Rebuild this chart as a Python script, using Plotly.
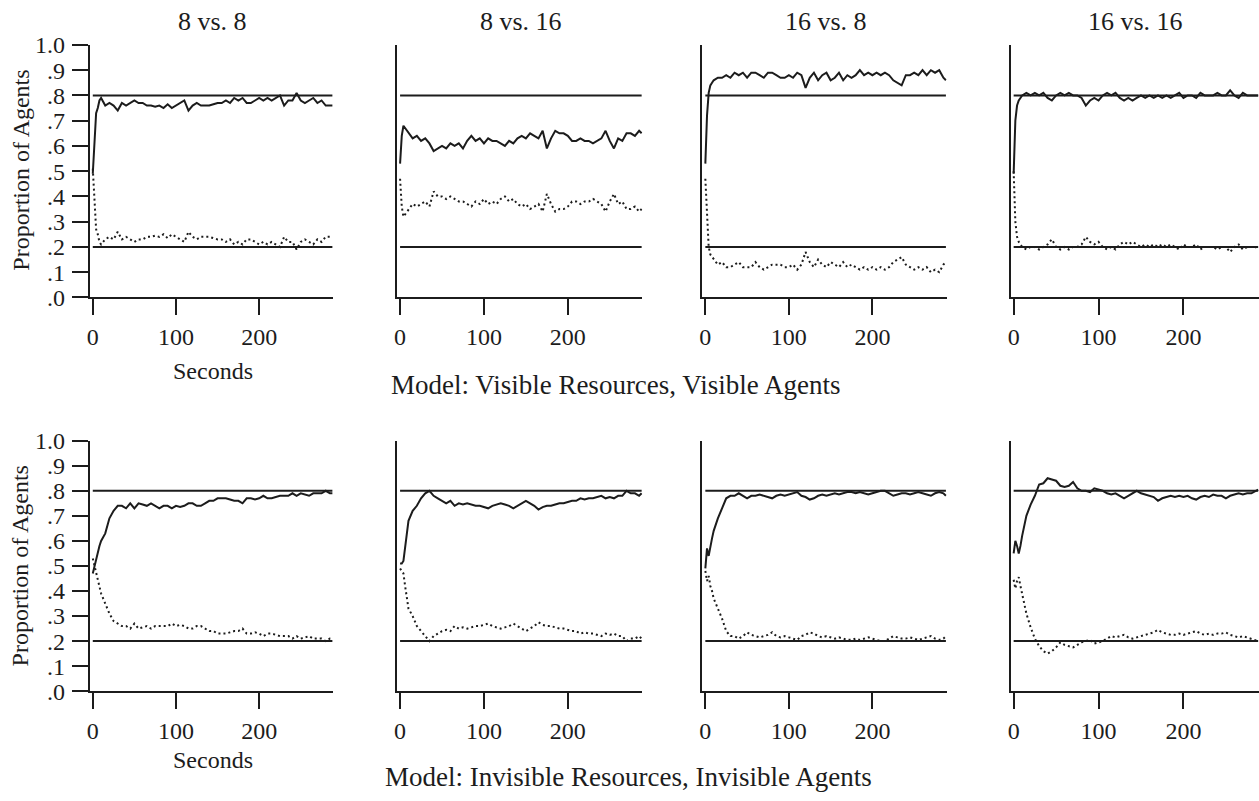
import plotly.graph_objects as go

# Sampling times (seconds)
TIME = [0, 2, 4, 6, 8,
        10, 15, 20, 25, 30, 35, 40, 45, 50, 55,
        60, 65, 70, 75, 80, 85, 90, 95, 100, 105,
        110, 115, 120, 125, 130, 135, 140, 145, 150, 155,
        160, 165, 170, 175, 180, 185, 190, 195, 200, 205,
        210, 215, 220, 225, 230, 235, 240, 245, 250, 255,
        260, 265, 270, 275, 280, 285, 288]

PANEL_TITLES = ["8 vs. 8", "8 vs. 16", "16 vs. 8", "16 vs. 16"]
MODEL_LABELS = ["Model: Visible Resources, Visible Agents",
                "Model: Invisible Resources, Invisible Agents"]

# Visible resources, visible agents: proportion of agents at each site
vis_8v8_a = [0.49, 0.62, 0.73, 0.75, 0.78,
             0.79, 0.76, 0.77, 0.76, 0.74, 0.77, 0.76, 0.77, 0.78, 0.77,
             0.77, 0.76, 0.76, 0.755, 0.76, 0.75, 0.765, 0.75, 0.76, 0.77,
             0.78, 0.74, 0.76, 0.77, 0.76, 0.76, 0.76, 0.765, 0.77, 0.77,
             0.78, 0.77, 0.79, 0.78, 0.79, 0.77, 0.77, 0.78, 0.79, 0.78,
             0.79, 0.78, 0.79, 0.80, 0.76, 0.78, 0.78, 0.81, 0.78, 0.77,
             0.78, 0.79, 0.77, 0.78, 0.76, 0.76, 0.76]
vis_8v8_b = [0.51, 0.38, 0.27, 0.25, 0.22,
             0.21, 0.23, 0.24, 0.23, 0.26, 0.23, 0.24, 0.23, 0.22, 0.23,
             0.23, 0.24, 0.24, 0.245, 0.24, 0.25, 0.235, 0.25, 0.24, 0.23,
             0.22, 0.26, 0.24, 0.23, 0.24, 0.24, 0.24, 0.235, 0.23, 0.23,
             0.22, 0.23, 0.21, 0.22, 0.21, 0.23, 0.23, 0.22, 0.21, 0.22,
             0.21, 0.22, 0.21, 0.20, 0.24, 0.22, 0.22, 0.19, 0.22, 0.23,
             0.22, 0.21, 0.23, 0.22, 0.24, 0.24, 0.24]

vis_8v16_a = [0.53, 0.64, 0.68, 0.67, 0.66,
              0.65, 0.63, 0.64, 0.62, 0.63, 0.61, 0.58, 0.59, 0.60, 0.59,
              0.61, 0.60, 0.61, 0.59, 0.62, 0.64, 0.62, 0.63, 0.61, 0.63,
              0.62, 0.62, 0.61, 0.60, 0.62, 0.61, 0.63, 0.64, 0.63, 0.65,
              0.64, 0.63, 0.66, 0.59, 0.63, 0.66, 0.65, 0.65, 0.64, 0.62,
              0.62, 0.63, 0.62, 0.62, 0.61, 0.62, 0.63, 0.66, 0.62, 0.59,
              0.63, 0.62, 0.65, 0.65, 0.64, 0.66, 0.65]
vis_8v16_b = [0.47, 0.36, 0.32, 0.33, 0.34,
              0.35, 0.37, 0.36, 0.37, 0.38, 0.36, 0.42, 0.40, 0.40, 0.39,
              0.40, 0.39, 0.38, 0.38, 0.37, 0.36, 0.38, 0.37, 0.39, 0.37,
              0.38, 0.37, 0.39, 0.40, 0.38, 0.39, 0.37, 0.36, 0.37, 0.35,
              0.36, 0.37, 0.34, 0.41, 0.37, 0.34, 0.35, 0.35, 0.36, 0.38,
              0.38, 0.37, 0.38, 0.38, 0.39, 0.38, 0.37, 0.34, 0.38, 0.41,
              0.37, 0.38, 0.35, 0.35, 0.36, 0.34, 0.35]

vis_16v8_a = [0.53, 0.72, 0.81, 0.84, 0.85,
              0.86, 0.87, 0.87, 0.88, 0.87, 0.89, 0.88, 0.89, 0.87, 0.89,
              0.89, 0.88, 0.87, 0.89, 0.89, 0.88, 0.87, 0.87, 0.88, 0.87,
              0.89, 0.88, 0.83, 0.87, 0.89, 0.86, 0.88, 0.89, 0.86, 0.87,
              0.89, 0.86, 0.88, 0.87, 0.88, 0.90, 0.88, 0.89, 0.88, 0.89,
              0.88, 0.89, 0.88, 0.86, 0.85, 0.84, 0.88, 0.88, 0.89, 0.88,
              0.90, 0.88, 0.90, 0.89, 0.90, 0.87, 0.86]
vis_16v8_b = [0.47, 0.30, 0.20, 0.17, 0.16,
              0.15, 0.13, 0.14, 0.12, 0.12, 0.13, 0.14, 0.12, 0.12, 0.12,
              0.14, 0.12, 0.11, 0.12, 0.13, 0.13, 0.13, 0.12, 0.12, 0.13,
              0.11, 0.13, 0.18, 0.14, 0.12, 0.15, 0.13, 0.12, 0.14, 0.13,
              0.12, 0.14, 0.12, 0.13, 0.12, 0.11, 0.12, 0.11, 0.12, 0.11,
              0.12, 0.11, 0.12, 0.14, 0.15, 0.16, 0.13, 0.12, 0.11, 0.12,
              0.11, 0.12, 0.10, 0.11, 0.10, 0.13, 0.14]

vis_16v16_a = [0.49, 0.70, 0.76, 0.78, 0.79,
               0.80, 0.81, 0.80, 0.81, 0.80, 0.81, 0.79, 0.78, 0.80, 0.81,
               0.80, 0.81, 0.80, 0.80, 0.79, 0.76, 0.78, 0.79, 0.78, 0.80,
               0.81, 0.80, 0.81, 0.79, 0.78, 0.79, 0.78, 0.79, 0.80, 0.79,
               0.80, 0.79, 0.80, 0.79, 0.80, 0.79, 0.80, 0.81, 0.79, 0.80,
               0.80, 0.79, 0.81, 0.80, 0.80, 0.80, 0.81, 0.80, 0.80, 0.82,
               0.80, 0.79, 0.81, 0.80, 0.80, 0.80, 0.80]
vis_16v16_b = [0.50, 0.30, 0.24, 0.22, 0.21,
               0.20, 0.19, 0.20, 0.20, 0.19, 0.20, 0.21, 0.23, 0.20, 0.19,
               0.20, 0.19, 0.20, 0.20, 0.21, 0.24, 0.22, 0.21, 0.22, 0.20,
               0.19, 0.20, 0.19, 0.21, 0.22, 0.21, 0.22, 0.21, 0.20, 0.21,
               0.20, 0.21, 0.20, 0.21, 0.20, 0.21, 0.20, 0.19, 0.21, 0.20,
               0.20, 0.21, 0.19, 0.20, 0.20, 0.20, 0.19, 0.20, 0.20, 0.18,
               0.20, 0.21, 0.19, 0.20, 0.20, 0.20, 0.19]

# Invisible resources, invisible agents
inv_8v8_a = [0.47, 0.50, 0.53, 0.56, 0.58,
             0.60, 0.63, 0.69, 0.72, 0.74, 0.74, 0.73, 0.75, 0.73, 0.75,
             0.745, 0.74, 0.75, 0.74, 0.73, 0.74, 0.74, 0.73, 0.74, 0.735,
             0.74, 0.75, 0.75, 0.74, 0.74, 0.75, 0.76, 0.76, 0.77, 0.77,
             0.77, 0.765, 0.76, 0.76, 0.75, 0.77, 0.77, 0.765, 0.77, 0.78,
             0.77, 0.77, 0.775, 0.78, 0.78, 0.78, 0.79, 0.78, 0.79, 0.785,
             0.78, 0.79, 0.79, 0.79, 0.80, 0.79, 0.79]
inv_8v8_b = [0.53, 0.50, 0.47, 0.44, 0.41,
             0.39, 0.35, 0.31, 0.28, 0.27, 0.26, 0.26, 0.25, 0.27, 0.25,
             0.255, 0.26, 0.25, 0.26, 0.26, 0.26, 0.26, 0.27, 0.26, 0.265,
             0.26, 0.25, 0.25, 0.26, 0.26, 0.25, 0.24, 0.24, 0.23, 0.23,
             0.23, 0.235, 0.24, 0.24, 0.25, 0.23, 0.23, 0.235, 0.23, 0.22,
             0.23, 0.23, 0.225, 0.22, 0.22, 0.22, 0.21, 0.22, 0.21, 0.215,
             0.22, 0.21, 0.21, 0.21, 0.20, 0.21, 0.21]

inv_8v16_a = [0.51, 0.51, 0.52, 0.58, 0.64,
              0.68, 0.72, 0.74, 0.77, 0.79, 0.80, 0.78, 0.77, 0.76, 0.75,
              0.76, 0.74, 0.75, 0.745, 0.75, 0.745, 0.74, 0.74, 0.735, 0.73,
              0.74, 0.745, 0.75, 0.745, 0.74, 0.73, 0.74, 0.75, 0.76, 0.75,
              0.74, 0.725, 0.735, 0.74, 0.74, 0.745, 0.75, 0.75, 0.755, 0.76,
              0.76, 0.77, 0.765, 0.77, 0.77, 0.775, 0.78, 0.77, 0.775, 0.77,
              0.78, 0.78, 0.80, 0.79, 0.79, 0.78, 0.79]
inv_8v16_b = [0.49, 0.48, 0.47, 0.42, 0.37,
              0.33, 0.30, 0.26, 0.24, 0.22, 0.20, 0.22, 0.23, 0.24, 0.245,
              0.24, 0.26, 0.25, 0.255, 0.25, 0.255, 0.26, 0.26, 0.265, 0.27,
              0.26, 0.255, 0.25, 0.255, 0.26, 0.27, 0.26, 0.25, 0.24, 0.25,
              0.26, 0.275, 0.265, 0.26, 0.26, 0.255, 0.25, 0.25, 0.245, 0.24,
              0.24, 0.23, 0.235, 0.23, 0.23, 0.225, 0.22, 0.23, 0.225, 0.23,
              0.22, 0.22, 0.20, 0.21, 0.21, 0.22, 0.21]

inv_16v8_a = [0.49, 0.57, 0.54, 0.58, 0.61,
              0.64, 0.69, 0.73, 0.77, 0.78, 0.78, 0.79, 0.78, 0.77, 0.78,
              0.78, 0.785, 0.78, 0.775, 0.77, 0.78, 0.785, 0.78, 0.785, 0.79,
              0.795, 0.78, 0.775, 0.765, 0.77, 0.78, 0.785, 0.78, 0.785, 0.79,
              0.785, 0.79, 0.795, 0.795, 0.79, 0.795, 0.79, 0.785, 0.79, 0.795,
              0.80, 0.80, 0.79, 0.78, 0.785, 0.79, 0.79, 0.785, 0.79, 0.795,
              0.79, 0.785, 0.78, 0.79, 0.795, 0.79, 0.78]
inv_16v8_b = [0.48, 0.44, 0.46, 0.42, 0.40,
              0.37, 0.33, 0.29, 0.24, 0.22, 0.22, 0.21, 0.22, 0.235, 0.225,
              0.22, 0.215, 0.22, 0.225, 0.235, 0.22, 0.215, 0.22, 0.215, 0.21,
              0.205, 0.22, 0.225, 0.235, 0.23, 0.22, 0.215, 0.22, 0.215, 0.21,
              0.215, 0.21, 0.205, 0.205, 0.21, 0.205, 0.21, 0.215, 0.21, 0.205,
              0.20, 0.20, 0.21, 0.22, 0.215, 0.21, 0.21, 0.215, 0.21, 0.205,
              0.21, 0.215, 0.22, 0.21, 0.205, 0.21, 0.22]

inv_16v16_a = [0.55, 0.60, 0.58, 0.55, 0.58,
               0.62, 0.70, 0.745, 0.78, 0.825, 0.83, 0.85, 0.845, 0.84, 0.82,
               0.815, 0.82, 0.835, 0.81, 0.80, 0.80, 0.795, 0.81, 0.805, 0.80,
               0.79, 0.785, 0.79, 0.78, 0.77, 0.78, 0.79, 0.80, 0.79, 0.785,
               0.78, 0.775, 0.76, 0.77, 0.775, 0.78, 0.775, 0.78, 0.775, 0.78,
               0.77, 0.765, 0.775, 0.78, 0.775, 0.785, 0.78, 0.78, 0.77, 0.78,
               0.785, 0.79, 0.785, 0.79, 0.79, 0.80, 0.805]
inv_16v16_b = [0.445, 0.41, 0.44, 0.455, 0.42,
               0.39, 0.31, 0.255, 0.21, 0.18, 0.16, 0.15, 0.16, 0.175, 0.195,
               0.185, 0.18, 0.175, 0.185, 0.195, 0.20, 0.205, 0.19, 0.195, 0.20,
               0.21, 0.22, 0.215, 0.22, 0.225, 0.215, 0.21, 0.215, 0.22, 0.225,
               0.23, 0.235, 0.245, 0.235, 0.23, 0.225, 0.225, 0.23, 0.225, 0.23,
               0.235, 0.24, 0.23, 0.225, 0.23, 0.225, 0.23, 0.23, 0.235, 0.225,
               0.22, 0.215, 0.22, 0.215, 0.21, 0.205, 0.20]

# Expected equilibrium proportions
TARGET_HIGH = 0.8
TARGET_LOW = 0.2

X_TICKS = [0, 100, 200]
Y_TICKS = [0.0, 0.1, 0.2, 0.3, 0.4, 0.5, 0.6, 0.7, 0.8, 0.9, 1.0]
Y_TICK_TEXT = [".0", ".1", ".2", ".3", ".4", ".5", ".6", ".7", ".8", ".9", "1.0"]

ROWS = [
    [(vis_8v8_a, vis_8v8_b), (vis_8v16_a, vis_8v16_b),
     (vis_16v8_a, vis_16v8_b), (vis_16v16_a, vis_16v16_b)],
    [(inv_8v8_a, inv_8v8_b), (inv_8v16_a, inv_8v16_b),
     (inv_16v8_a, inv_16v8_b), (inv_16v16_a, inv_16v16_b)],
]

# ---- page geometry (pixels) ----
W, H = 1259, 801
COL_PX = [(87, 331), (395, 641), (701, 946), (1010, 1259)]
ROW_PX = [(33, 294), (442, 701)]          # top, bottom of each plot row
TITLE_Y = 8.5
YTITLE_Y = [162, 571]
SECONDS_Y = [370, 772]
MODEL_Y = [384, 790]
MODEL_X = [614, 627]
X_RANGE = [-3.6, 289]

FONT = "Liberation Serif, Times New Roman, serif"
INK = "#1c1c1c"


def px_x(p):
    return p / W


def px_y(p):
    return 1 - p / H


fig = go.Figure()
layout = dict(
    width=W, height=H,
    margin=dict(l=0, r=0, t=0, b=0),
    paper_bgcolor="white", plot_bgcolor="white",
    showlegend=False,
    font=dict(family=FONT, color=INK, size=22),
)
shapes = []
annotations = []

for r, row in enumerate(ROWS):
    top, bottom = ROW_PX[r]
    for c, (solid, dotted) in enumerate(row):
        n = r * 4 + c + 1
        xa = "x" if n == 1 else f"x{n}"
        ya = "y" if n == 1 else f"y{n}"
        left, right = COL_PX[c]

        layout["xaxis" if n == 1 else f"xaxis{n}"] = dict(
            domain=[px_x(left), px_x(right)], range=X_RANGE,
            anchor=ya, showgrid=False, zeroline=False,
            showline=True, linecolor=INK, linewidth=2,
            tickmode="array", tickvals=X_TICKS,
            ticks="outside", ticklen=16, tickwidth=2, tickcolor=INK,
            tickfont=dict(family=FONT, size=24, color=INK),
            ticklabelstandoff=1,
        )
        yax = dict(
            domain=[px_y(bottom), px_y(top)], range=[0, 1],
            anchor=xa, showgrid=False, zeroline=False,
            showline=True, linecolor=INK, linewidth=2,
        )
        if c == 0:
            yax.update(tickmode="array", tickvals=Y_TICKS, ticktext=Y_TICK_TEXT,
                       ticks="outside", ticklen=16, tickwidth=2, tickcolor=INK,
                       tickfont=dict(family=FONT, size=24, color=INK),
                       ticklabelstandoff=2)
        else:
            yax.update(showticklabels=False, ticks="")
        layout["yaxis" if n == 1 else f"yaxis{n}"] = yax

        # reference levels
        for level in (TARGET_HIGH, TARGET_LOW):
            shapes.append(dict(type="line", xref=xa, yref=ya,
                               x0=TIME[0], x1=TIME[-1], y0=level, y1=level,
                               line=dict(color=INK, width=2)))

        fig.add_trace(go.Scatter(x=TIME, y=solid, mode="lines", xaxis=xa, yaxis=ya,
                                 line=dict(color=INK, width=2), hoverinfo="skip"))
        fig.add_trace(go.Scatter(x=TIME, y=dotted, mode="lines", xaxis=xa, yaxis=ya,
                                 line=dict(color=INK, width=2, dash="2px,3px"),
                                 hoverinfo="skip"))

        if r == 0:
            annotations.append(dict(text=PANEL_TITLES[c], xref="paper", yref="paper",
                                    x=px_x((left + right) / 2 + 1), y=px_y(TITLE_Y),
                                    showarrow=False, xanchor="center", yanchor="middle",
                                    font=dict(family=FONT, size=26, color=INK)))

    # row labels
    annotations.append(dict(text="Proportion of Agents", xref="paper", yref="paper",
                            x=px_x(18), y=px_y(YTITLE_Y[r]), textangle=-90,
                            showarrow=False, xanchor="center", yanchor="middle",
                            font=dict(family=FONT, size=24, color=INK)))
    annotations.append(dict(text="Seconds", xref="paper", yref="paper",
                            x=px_x(211), y=px_y(SECONDS_Y[r]),
                            showarrow=False, xanchor="center", yanchor="middle",
                            font=dict(family=FONT, size=24, color=INK)))
    annotations.append(dict(text=MODEL_LABELS[r], xref="paper", yref="paper",
                            x=px_x(MODEL_X[r]), y=px_y(MODEL_Y[r]),
                            showarrow=False, xanchor="center", yanchor="middle",
                            font=dict(family=FONT, size=27, color=INK)))

layout["shapes"] = shapes
layout["annotations"] = annotations
fig.update_layout(**layout)
fig.write_html("out.html")
